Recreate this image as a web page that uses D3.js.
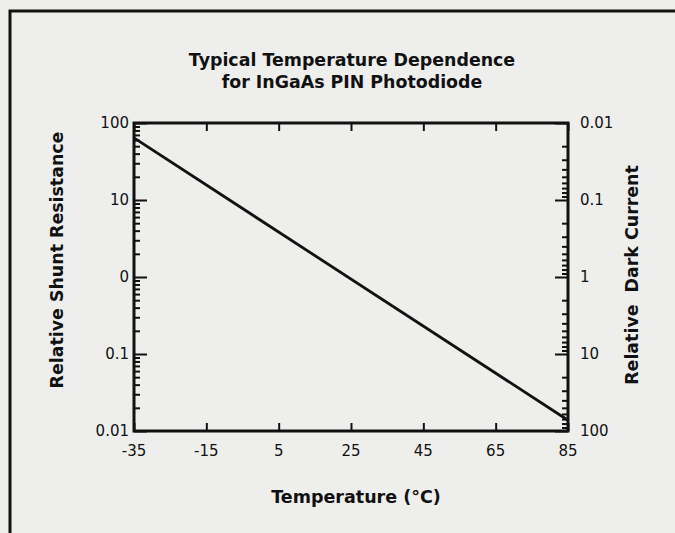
<!DOCTYPE html>
<html>
<head>
<meta charset="utf-8">
<script src="https://cdn.jsdelivr.net/npm/d3@7"></script>
<style>
  html, body { margin: 0; padding: 0; background: #eeeeec; }
  svg { display: block; }
  .lbl { font-family: "DejaVu Sans", sans-serif; fill: #111; }
</style>
</head>
<body>
<div id="chart"></div>
<script>
// data
var temps = [-35, 85];
var shunt = [64, 0.0138];
var xTicks = [-35, -15, 5, 25, 45, 65, 85];
var leftTicks = [100, 10, 1, 0.1, 0.01];
var leftLabels = ["100", "10", "0", "0.1", "0.01"];
var rightTicks = [0.01, 0.1, 1, 10, 100];
var rightLabels = ["0.01", "0.1", "1", "10", "100"];

var width = 675, height = 533;
var m = {left: 134, right: 568, top: 123, bottom: 431};

var svg = d3.select("#chart").append("svg")
    .attr("width", width)
    .attr("height", height)

// frame of the scanned page
svg.append("path")
    .attr("d", "M10,533 L10,11 L675,11")
    .attr("fill", "none")
    .attr("stroke", "#111")
    .attr("stroke-width", 3)

var x = d3.scaleLinear().domain([-35, 85]).range([m.left, m.right]);
var yL = d3.scaleLog().domain([0.01, 100]).range([m.bottom, m.top]);
var yR = d3.scaleLog().domain([0.01, 100]).range([m.top, m.bottom]);

function minors(scale){
    return scale.ticks().filter(function(v){
        return leftTicks.indexOf(v) < 0;
    });
}

function styleAxis(g){
    g.select(".domain").remove();
    g.selectAll("line").attr("stroke", "#111").attr("stroke-width", 2);
}

// bottom axis, ticks pointing in
svg.append("g")
    .attr("transform", "translate(0," + m.bottom + ")")
    .call(d3.axisTop(x).tickValues(xTicks).tickSize(8).tickFormat(""))
    .call(styleAxis)
svg.append("g")
    .selectAll("text").data(xTicks).enter().append("text")
    .attr("class", "lbl")
    .attr("x", function(d){ return x(d) })
    .attr("y", m.bottom + 25)
    .attr("text-anchor", "middle")
    .style("font-size", "15px")
    .text(function(d){ return d })

// top axis
svg.append("g")
    .attr("transform", "translate(0," + m.top + ")")
    .call(d3.axisBottom(x).tickValues(xTicks).tickSize(8).tickFormat(""))
    .call(styleAxis)

// left axis
svg.append("g")
    .attr("transform", "translate(" + m.left + ",0)")
    .call(d3.axisRight(yL).tickValues(leftTicks).tickSize(13).tickFormat(""))
    .call(styleAxis)
svg.append("g")
    .attr("transform", "translate(" + m.left + ",0)")
    .call(d3.axisRight(yL).tickValues(minors(yL)).tickSize(6).tickFormat(""))
    .call(styleAxis)
svg.append("g")
    .selectAll("text").data(leftTicks).enter().append("text")
    .attr("class", "lbl")
    .attr("x", m.left - 5)
    .attr("y", function(d){ return yL(d) })
    .attr("dy", "0.35em")
    .attr("text-anchor", "end")
    .style("font-size", "15px")
    .text(function(d, i){ return leftLabels[i] })

// right axis
svg.append("g")
    .attr("transform", "translate(" + m.right + ",0)")
    .call(d3.axisLeft(yR).tickValues(rightTicks).tickSize(13).tickFormat(""))
    .call(styleAxis)
svg.append("g")
    .attr("transform", "translate(" + m.right + ",0)")
    .call(d3.axisLeft(yR).tickValues(minors(yR)).tickSize(6).tickFormat(""))
    .call(styleAxis)
svg.append("g")
    .selectAll("text").data(rightTicks).enter().append("text")
    .attr("class", "lbl")
    .attr("x", m.right + 12)
    .attr("y", function(d){ return yR(d) })
    .attr("dy", "0.35em")
    .attr("text-anchor", "start")
    .style("font-size", "15px")
    .text(function(d, i){ return rightLabels[i] })

// plot box
svg.append("rect")
    .attr("x", m.left)
    .attr("y", m.top)
    .attr("width", m.right - m.left)
    .attr("height", m.bottom - m.top)
    .attr("fill", "none")
    .attr("stroke", "#111")
    .attr("stroke-width", 3)

// the curve
var line = d3.line()
    .x(function(d){ return x(d[0]) })
    .y(function(d){ return yL(d[1]) })
svg.append("path")
    .datum(d3.zip(temps, shunt))
    .attr("d", line)
    .attr("fill", "none")
    .attr("stroke", "#111")
    .attr("stroke-width", 2.8)

// titles
var title = svg.append("text")
    .attr("class", "lbl")
    .attr("text-anchor", "middle")
    .style("font-size", "17.4px")
    .style("font-weight", "bold")
title.append("tspan").attr("x", 352).attr("y", 66).text("Typical Temperature Dependence")
title.append("tspan").attr("x", 352).attr("y", 88).text("for InGaAs PIN Photodiode")

svg.append("text")
    .attr("class", "lbl")
    .attr("x", 356)
    .attr("y", 503)
    .attr("text-anchor", "middle")
    .style("font-size", "17.5px")
    .style("font-weight", "bold")
    .text("Temperature (°C)")

svg.append("text")
    .attr("class", "lbl")
    .attr("transform", "translate(63,260) rotate(-90)")
    .attr("text-anchor", "middle")
    .style("font-size", "17.4px")
    .style("font-weight", "bold")
    .text("Relative Shunt Resistance")

svg.append("text")
    .attr("class", "lbl")
    .attr("transform", "translate(638,275) rotate(-90)")
    .attr("text-anchor", "middle")
    .style("font-size", "17.4px")
    .style("font-weight", "bold")
    .style("white-space", "pre")
    .text("Relative  Dark Current")
</script>
</body>
</html>
